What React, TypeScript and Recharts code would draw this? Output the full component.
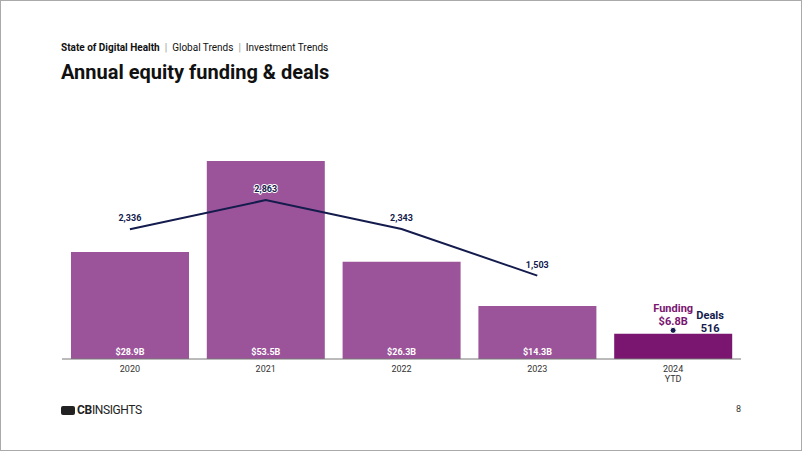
import React from 'react';
import { ComposedChart, Bar, Line, XAxis, YAxis, LabelList, Cell } from 'recharts';

const years = ['2020', '2021', '2022', '2023', '2024'];
const yearSubs = ['', '', '', '', 'YTD'];
const funding = [28.9, 53.5, 26.3, 14.3, 6.8];
const deals = [2336, 2863, 2343, 1503, 516];

const PURPLE = '#9b5499';
const DARK_PURPLE = '#7a1570';
const NAVY = '#141b4d';
const FONT = 'Roboto, "Noto Sans", sans-serif';

const data = years.map((y, i) => ({
    year: y,
    sub: yearSubs[i],
    funding: funding[i],
    deals: i < years.length - 1 ? deals[i] : null,
    ytdDeals: i === years.length - 1 ? deals[i] : null,
}));

const fmtDeals = (v: number) => v.toLocaleString('en-US');

const YearTick: React.FC<any> = ({ x, y, payload, index }) => (
    <g>
        <text x={x} y={y + 5} textAnchor="middle" fontSize={9} fill="#333" fontFamily={FONT}>
            {payload.value}
        </text>
        {data[index] && data[index].sub ? (
            <text x={x} y={y + 15} textAnchor="middle" fontSize={9} fill="#333" fontFamily={FONT}>
                {data[index].sub}
            </text>
        ) : null}
    </g>
);

const FundingLabel: React.FC<any> = ({ x, y, width, height, value, index }) => {
    const cx = x + width / 2;
    if (index === years.length - 1) {
        return (
            <g fontFamily={FONT} fontWeight={700} fill={DARK_PURPLE}>
                <text x={cx} y={y - 22} textAnchor="middle" fontSize={11}>Funding</text>
                <text x={cx} y={y - 9} textAnchor="middle" fontSize={11}>{`$${value}B`}</text>
            </g>
        );
    }
    return (
        <text x={cx} y={y + height - 4} textAnchor="middle" fontSize={9} fontWeight={700} fill="#fff" fontFamily={FONT}>
            {`$${value}B`}
        </text>
    );
};

const DealsLabel: React.FC<any> = ({ x, y, value }) => {
    if (value == null) return null;
    return (
        <text x={x} y={y - 8} textAnchor="middle" fontSize={9} fontWeight={700} fill={NAVY}
            stroke="#fff" strokeWidth={2} paintOrder="stroke" fontFamily={FONT}>
            {fmtDeals(value)}
        </text>
    );
};

const YtdLabel: React.FC<any> = ({ x, y, value }) => {
    if (value == null) return null;
    return (
        <g fontFamily={FONT} fontWeight={700} fill={NAVY} fontSize={11}>
            <text x={x + 37} y={y - 11} textAnchor="middle">Deals</text>
            <text x={x + 37} y={y + 2} textAnchor="middle">{fmtDeals(value)}</text>
        </g>
    );
};

export default function App() {
    return (
        <div style={{ position: 'absolute', left: 0, top: 0, width: 802, height: 451, background: '#fff', border: '1px solid #aaa', boxSizing: 'border-box', fontFamily: FONT, overflow: 'hidden' }}>
            <div style={{ position: 'absolute', left: 60, top: 41, fontSize: 10, color: '#111', whiteSpace: 'nowrap' }}>
                <span style={{ fontWeight: 700 }}>State of Digital Health</span>
                <span style={{ color: '#999', margin: '0 5px' }}>|</span>
                <span>Global Trends</span>
                <span style={{ color: '#999', margin: '0 5px' }}>|</span>
                <span>Investment Trends</span>
            </div>
            <div style={{ position: 'absolute', left: 60, top: 59, fontSize: 20, fontWeight: 700, color: '#111', whiteSpace: 'nowrap' }}>
                Annual equity funding &amp; deals
            </div>
            <div style={{ position: 'absolute', left: 0, top: 0 }}>
                <ComposedChart width={800} height={449} data={data}
                    margin={{ top: 136, right: 60, left: 61, bottom: 61 }} barCategoryGap={9}>
                    <XAxis dataKey="year" axisLine={{ stroke: '#777' }} tickLine={false} tick={<YearTick />} interval={0} />
                    <YAxis yAxisId="f" domain={[0, 60]} hide />
                    <YAxis yAxisId="d" domain={[0, 4000]} hide orientation="right" />
                    <Bar yAxisId="f" dataKey="funding" isAnimationActive={false}>
                        {data.map((d, i) => (
                            <Cell key={d.year} fill={i === data.length - 1 ? DARK_PURPLE : PURPLE} />
                        ))}
                        <LabelList dataKey="funding" content={<FundingLabel />} />
                    </Bar>
                    <Line yAxisId="d" dataKey="deals" stroke={NAVY} strokeWidth={2} dot={false} isAnimationActive={false} connectNulls={false}>
                        <LabelList dataKey="deals" content={<DealsLabel />} />
                    </Line>
                    <Line yAxisId="d" dataKey="ytdDeals" stroke="none" isAnimationActive={false}
                        dot={{ r: 3, fill: NAVY, stroke: '#fff', strokeWidth: 1 }}>
                        <LabelList dataKey="ytdDeals" content={<YtdLabel />} />
                    </Line>
                </ComposedChart>
            </div>
            <div style={{ position: 'absolute', left: 60, top: 402, display: 'flex', alignItems: 'center', fontSize: 12, color: '#222' }}>
                <span style={{ display: 'inline-block', width: 14, height: 9, background: '#222', borderRadius: 2, marginRight: 2 }} />
                <span style={{ fontWeight: 700, letterSpacing: -0.3 }}>CB</span>
                <span style={{ letterSpacing: -0.4 }}>INSIGHTS</span>
            </div>
            <div style={{ position: 'absolute', left: 735, top: 403, fontSize: 9, color: '#333' }}>8</div>
        </div>
    );
}
